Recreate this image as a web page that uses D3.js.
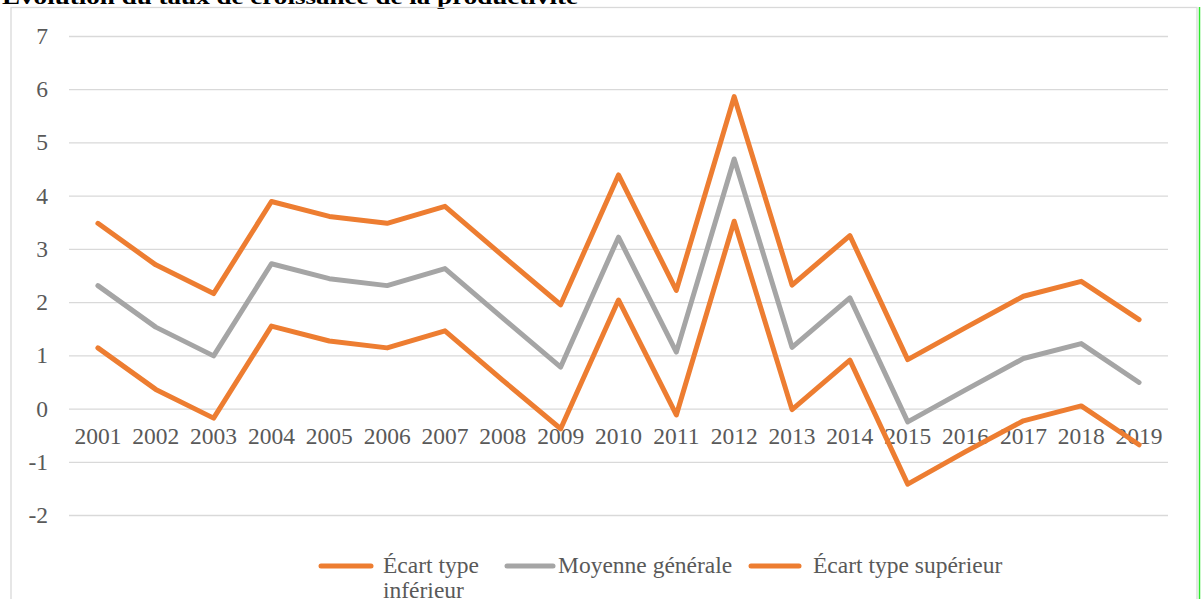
<!DOCTYPE html>
<html>
<head>
<meta charset="utf-8">
<script src="https://cdn.jsdelivr.net/npm/d3@7"></script>
<style>
  body { margin: 0; background: #fff; }
  svg { display: block; font-family: "Liberation Serif", "Times New Roman", serif; }
</style>
</head>
<body>
<svg id="viz" width="1202" height="599"></svg>
<script>
// ----------------------- DATA
const years = ["2001","2002","2003","2004","2005","2006","2007","2008","2009","2010",
               "2011","2012","2013","2014","2015","2016","2017","2018","2019"];
const lowerValues = [1.14,0.36,-0.18,1.55,1.27,1.14,1.46,0.53,-0.38,2.04,-0.12,3.52,-0.02,0.91,-1.42,-0.81,-0.23,0.05,-0.68];
const meanValues  = [2.31,1.53,0.99,2.72,2.44,2.31,2.63,1.70,0.78,3.22,1.06,4.69,1.15,2.08,-0.25,0.35,0.94,1.22,0.49];
const upperValues = [3.48,2.70,2.16,3.89,3.61,3.48,3.80,2.87,1.95,4.39,2.22,5.86,2.32,3.25,0.92,1.52,2.11,2.39,1.67];
const yTicks = [-2,-1,0,1,2,3,4,5,6,7];
const seriesNames = ["Écart type inférieur", "Moyenne générale", "Écart type supérieur"];
const title = "Évolution du taux de croissance de la productivité";

// ----------------------- SETTINGS
const orange = "#ED7D31", grey = "#A5A5A5", textCol = "#595959", gridCol = "#D9D9D9";
const plot = { left: 69, right: 1168, top: 36, bottom: 515 };
const fontSize = 23.5;

const series = [
  { name: seriesNames[0], values: lowerValues, color: orange },
  { name: seriesNames[1], values: meanValues,  color: grey },
  { name: seriesNames[2], values: upperValues, color: orange }
];

const svg = d3.select('#viz');

// title (cut off at top, as in the source)
svg.append('text')
  .attr('x', 2).attr('y', 4)
  .attr('font-size', 22).attr('font-weight', 'bold')
  .attr('textLength', 576).attr('lengthAdjust', 'spacingAndGlyphs')
  .attr('fill', '#000')
  .text(title);

// chart border
svg.append('rect')
  .attr('x', 11).attr('y', 7.5)
  .attr('width', 1186).attr('height', 600)
  .attr('fill', 'none').attr('stroke', gridCol).attr('stroke-width', 1.3);

svg.append('line')
  .attr('x1', 1199.5).attr('x2', 1199.5).attr('y1', 7).attr('y2', 599)
  .attr('stroke', '#2EE82E').attr('stroke-width', 1.5);

// ----------------------- SCALES / AXES
const x = d3.scaleBand().domain(years).range([plot.left, plot.right]);
const y = d3.scaleLinear().domain([-2, 7]).range([plot.bottom, plot.top]);
const cx = d => x(d) + x.bandwidth() / 2;

const yAxis = d3.axisLeft(y)
  .tickValues(yTicks)
  .tickSize(-(plot.right - plot.left))
  .tickPadding(21)
  .tickFormat(d => String(d));   // plain hyphen like the source

const gy = svg.append('g')
  .attr('transform', `translate(${plot.left},0)`)
  .call(yAxis);
gy.select('.domain').remove();
gy.selectAll('line').attr('stroke', gridCol).attr('stroke-width', 1.3);
gy.selectAll('text').attr('font-size', fontSize).attr('fill', textCol)
  .attr('font-family', '"Liberation Serif", serif');

const xAxis = d3.axisBottom(x).tickSize(0).tickPadding(19);
const gx = svg.append('g')
  .attr('transform', `translate(0,${y(0)})`)
  .call(xAxis);
gx.select('.domain').remove();
gx.selectAll('text').attr('font-size', fontSize).attr('fill', textCol)
  .attr('font-family', '"Liberation Serif", serif');

// ----------------------- LINES
const line = d3.line()
  .x((v, i) => cx(years[i]))
  .y(v => y(v));

svg.selectAll('.series')
  .data(series)
  .enter().append('path')
  .attr('class', 'series')
  .attr('d', d => line(d.values))
  .attr('fill', 'none')
  .attr('stroke', d => d.color)
  .attr('stroke-width', 5)
  .attr('stroke-linejoin', 'round')
  .attr('stroke-linecap', 'round');

// ----------------------- LEGEND
const legendPos = [
  { x1: 321, x2: 371, tx: 383, lines: ["Écart type", "inférieur"] },
  { x1: 507, x2: 553, tx: 558, lines: null },
  { x1: 751, x2: 799, tx: 813, lines: null }
];
const legendY = 566;

const lg = svg.selectAll('.legend')
  .data(series)
  .enter().append('g')
  .attr('class', 'legend');

lg.append('line')
  .attr('x1', (d, i) => legendPos[i].x1)
  .attr('x2', (d, i) => legendPos[i].x2)
  .attr('y1', legendY).attr('y2', legendY)
  .attr('stroke', d => d.color)
  .attr('stroke-width', 5)
  .attr('stroke-linecap', 'round');

lg.append('text')
  .attr('x', (d, i) => legendPos[i].tx)
  .attr('y', 573)
  .attr('font-size', fontSize)
  .attr('fill', textCol)
  .each(function (d, i) {
    const parts = legendPos[i].lines || [d.name];
    d3.select(this).selectAll('tspan')
      .data(parts)
      .enter().append('tspan')
      .attr('x', legendPos[i].tx)
      .attr('dy', (p, j) => j === 0 ? 0 : 25)
      .text(p => p);
  });
</script>
</body>
</html>
